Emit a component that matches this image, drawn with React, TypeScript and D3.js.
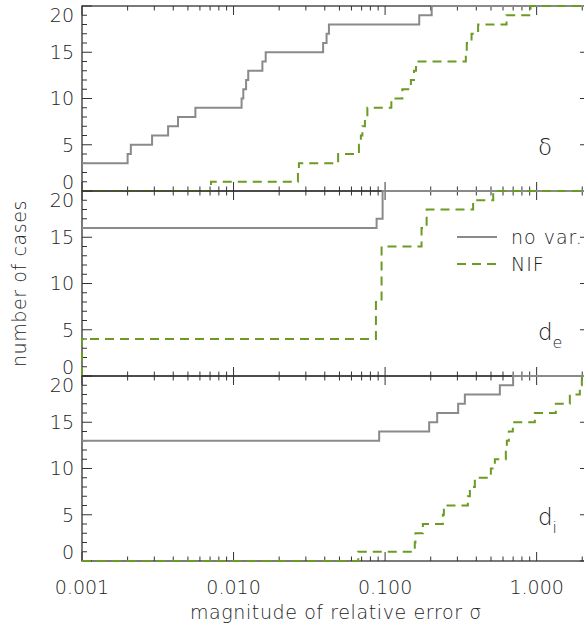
import React, { useEffect, useRef } from "react";
import * as d3 from "d3";

// cumulative number of cases vs. magnitude of relative error, three parameters
const panelNames = ["δ", "d", "d"];
const panelSubs = ["", "e", "i"];

const noVarStart = [3, 16, 13];
const noVarX = [
  [0.002, 0.0021, 0.0029, 0.0037, 0.0043, 0.0056, 0.0113, 0.0116, 0.0121, 0.0125, 0.0155, 0.0163, 0.039, 0.0411, 0.0426, 0.168, 0.203],
  [0.0879, 0.0963],
  [0.0914, 0.1954, 0.2207, 0.3035, 0.3361, 0.5719, 0.6998],
];
const noVarN = [
  [4, 5, 6, 7, 8, 9, 10, 11, 12, 13, 14, 15, 16, 17, 18, 19, 20],
  [17, 20],
  [14, 15, 16, 17, 18, 19, 20],
];

const nifStart = [0, 0, 0];
const nifX = [
  [0.0071, 0.0266, 0.027, 0.049, 0.0672, 0.0692, 0.0708, 0.0736, 0.0764, 0.11, 0.13, 0.148, 0.155, 0.16, 0.341, 0.346, 0.372, 0.411, 0.633, 0.912],
  [0.001, 0.087, 0.0948, 0.174, 0.188, 0.381, 0.517],
  [0.0665, 0.157, 0.1585, 0.1776, 0.2406, 0.2443, 0.3518, 0.3627, 0.3911, 0.4988, 0.5301, 0.6263, 0.6359, 0.6556, 0.6966, 0.973, 1.338, 1.656, 1.928, 1.988],
];
const nifN = [
  [1, 2, 3, 4, 5, 6, 7, 8, 9, 10, 11, 12, 13, 14, 15, 16, 17, 18, 19, 20],
  [4, 8, 14, 16, 18, 19, 20],
  [1, 2, 3, 4, 5, 6, 7, 8, 9, 10, 11, 12, 13, 14, 15, 16, 17, 18, 19, 20],
];

const xTicks = [0.001, 0.01, 0.1, 1];
const xTickLabels = ["0.001", "0.010", "0.100", "1.000"];
const yTicks = [0, 5, 10, 15, 20];
const legendLabels = ["no var.", "NIF"];

const FONT = "'DejaVu Sans', sans-serif";
const GRAY = "#8a8a8a";
const GREEN = "#6b9b22";
const INK = "#333";

function App() {
  const svgRef = useRef<SVGSVGElement | null>(null);

  useEffect(() => {
    drawChart();
  }, []);

  const drawChart = () => {
    const svg = d3.select(svgRef.current);
    svg.selectAll("*").remove();

    const left = 82;
    const right = 590;
    const top = 6;
    const panelH = 185;

    const x = d3.scaleLog().domain([0.001, 2.25]).range([left, right]);
    const minorX: number[] = [];
    for (const dec of [0.001, 0.01, 0.1, 1]) {
      for (let k = 2; k <= 9; k++) {
        if (dec * k <= 2.25) minorX.push(dec * k);
      }
    }

    for (let p = 0; p < 3; p++) {
      const y0 = top + p * panelH;
      const y = d3.scaleLinear().domain([0, 20]).range([y0 + panelH, y0]);
      const g = svg.append("g");

      g.append("rect")
        .attr("x", left)
        .attr("y", y0)
        .attr("width", right - left)
        .attr("height", panelH)
        .attr("fill", "none")
        .attr("stroke", INK)
        .attr("stroke-width", 1.3);

      // x ticks top and bottom, pointing in
      const tickX = (vals: number[], len: number) => {
        vals.forEach((v) => {
          g.append("line")
            .attr("x1", x(v)).attr("x2", x(v))
            .attr("y1", y0 + panelH).attr("y2", y0 + panelH - len)
            .attr("stroke", INK);
          g.append("line")
            .attr("x1", x(v)).attr("x2", x(v))
            .attr("y1", y0).attr("y2", y0 + len)
            .attr("stroke", INK);
        });
      };
      tickX(xTicks, 9);
      tickX(minorX, 4.5);

      // y ticks left and right
      d3.range(0, 21).forEach((v) => {
        const len = v % 5 === 0 ? 10 : 5;
        g.append("line")
          .attr("x1", left).attr("x2", left + len)
          .attr("y1", y(v)).attr("y2", y(v))
          .attr("stroke", INK);
        g.append("line")
          .attr("x1", right).attr("x2", right - len)
          .attr("y1", y(v)).attr("y2", y(v))
          .attr("stroke", INK);
      });

      yTicks.forEach((v) => {
        // end labels sit one unit inside the frame
        const pos = v === 0 ? y(1) : v === 20 ? y(19) : y(v);
        g.append("text")
          .attr("x", 74)
          .attr("y", pos)
          .attr("dy", "0.36em")
          .attr("text-anchor", "end")
          .attr("font-family", FONT)
          .attr("font-weight", 200)
          .attr("font-size", 19)
          .attr("fill", "#222")
          .text(v);
      });

      const line = d3
        .line<[number, number]>()
        .x((d) => x(d[0]))
        .y((d) => y(d[1]))
        .curve(d3.curveStepAfter);

      const steps = (start: number, xs: number[], ns: number[]): [number, number][] => {
        const pts: [number, number][] = [[0.001, start]];
        xs.forEach((v, i) => pts.push([v, ns[i]]));
        pts.push([2.25, ns[ns.length - 1]]);
        return pts;
      };

      g.append("path")
        .attr("d", line(steps(noVarStart[p], noVarX[p], noVarN[p])))
        .attr("fill", "none")
        .attr("stroke", GRAY)
        .attr("stroke-width", 2);

      g.append("path")
        .attr("d", line(steps(nifStart[p], nifX[p], nifN[p])))
        .attr("fill", "none")
        .attr("stroke", GREEN)
        .attr("stroke-width", 2)
        .attr("stroke-dasharray", "9,6");

      const lab = g.append("text")
        .attr("x", 538)
        .attr("y", y0 + panelH - 36)
        .attr("font-family", FONT)
        .attr("font-weight", 200)
        .attr("font-size", 23)
        .attr("fill", "#222")
        .text(panelNames[p]);
      if (panelSubs[p]) {
        lab.append("tspan")
          .attr("dy", 8)
          .attr("font-size", 16)
          .text(panelSubs[p]);
      }

      if (p === 1) {
        [0, 1].forEach((i) => {
          const ly = y0 + 46 + i * 27;
          g.append("line")
            .attr("x1", 457).attr("x2", 497)
            .attr("y1", ly).attr("y2", ly)
            .attr("stroke", i === 0 ? GRAY : GREEN)
            .attr("stroke-width", 2)
            .attr("stroke-dasharray", i === 0 ? null : "9,6");
          g.append("text")
            .attr("x", 511)
            .attr("y", ly)
            .attr("dy", "0.36em")
            .attr("font-family", FONT)
            .attr("font-weight", 200)
            .attr("font-size", 19)
            .attr("letter-spacing", 1)
            .attr("fill", "#222")
            .text(legendLabels[i]);
        });
      }
    }

    const bottom = top + 3 * panelH;
    xTicks.forEach((v, i) => {
      svg.append("text")
        .attr("x", x(v))
        .attr("y", bottom + 26)
        .attr("dy", "0.36em")
        .attr("text-anchor", "middle")
        .attr("font-family", FONT)
        .attr("font-weight", 200)
        .attr("font-size", 19)
        .attr("fill", "#222")
        .text(xTickLabels[i]);
    });

    svg.append("text")
      .attr("x", (left + right) / 2)
      .attr("y", bottom + 51)
      .attr("dy", "0.36em")
      .attr("text-anchor", "middle")
      .attr("font-family", FONT)
      .attr("font-weight", 200)
      .attr("font-size", 19)
      .attr("letter-spacing", 0.6)
      .attr("fill", "#222")
      .text("magnitude of relative error σ");

    svg.append("text")
      .attr("transform", `translate(19,${(top + bottom) / 2}) rotate(-90)`)
      .attr("dy", "0.36em")
      .attr("text-anchor", "middle")
      .attr("font-family", FONT)
      .attr("font-weight", 200)
      .attr("font-size", 19)
      .attr("letter-spacing", 0.6)
      .attr("fill", "#222")
      .text("number of cases");
  };

  return (
    <svg
      ref={svgRef}
      width={584}
      height={632}
      style={{ position: "absolute", left: 0, top: 0, background: "#fff" }}
    />
  );
}

export default App;
